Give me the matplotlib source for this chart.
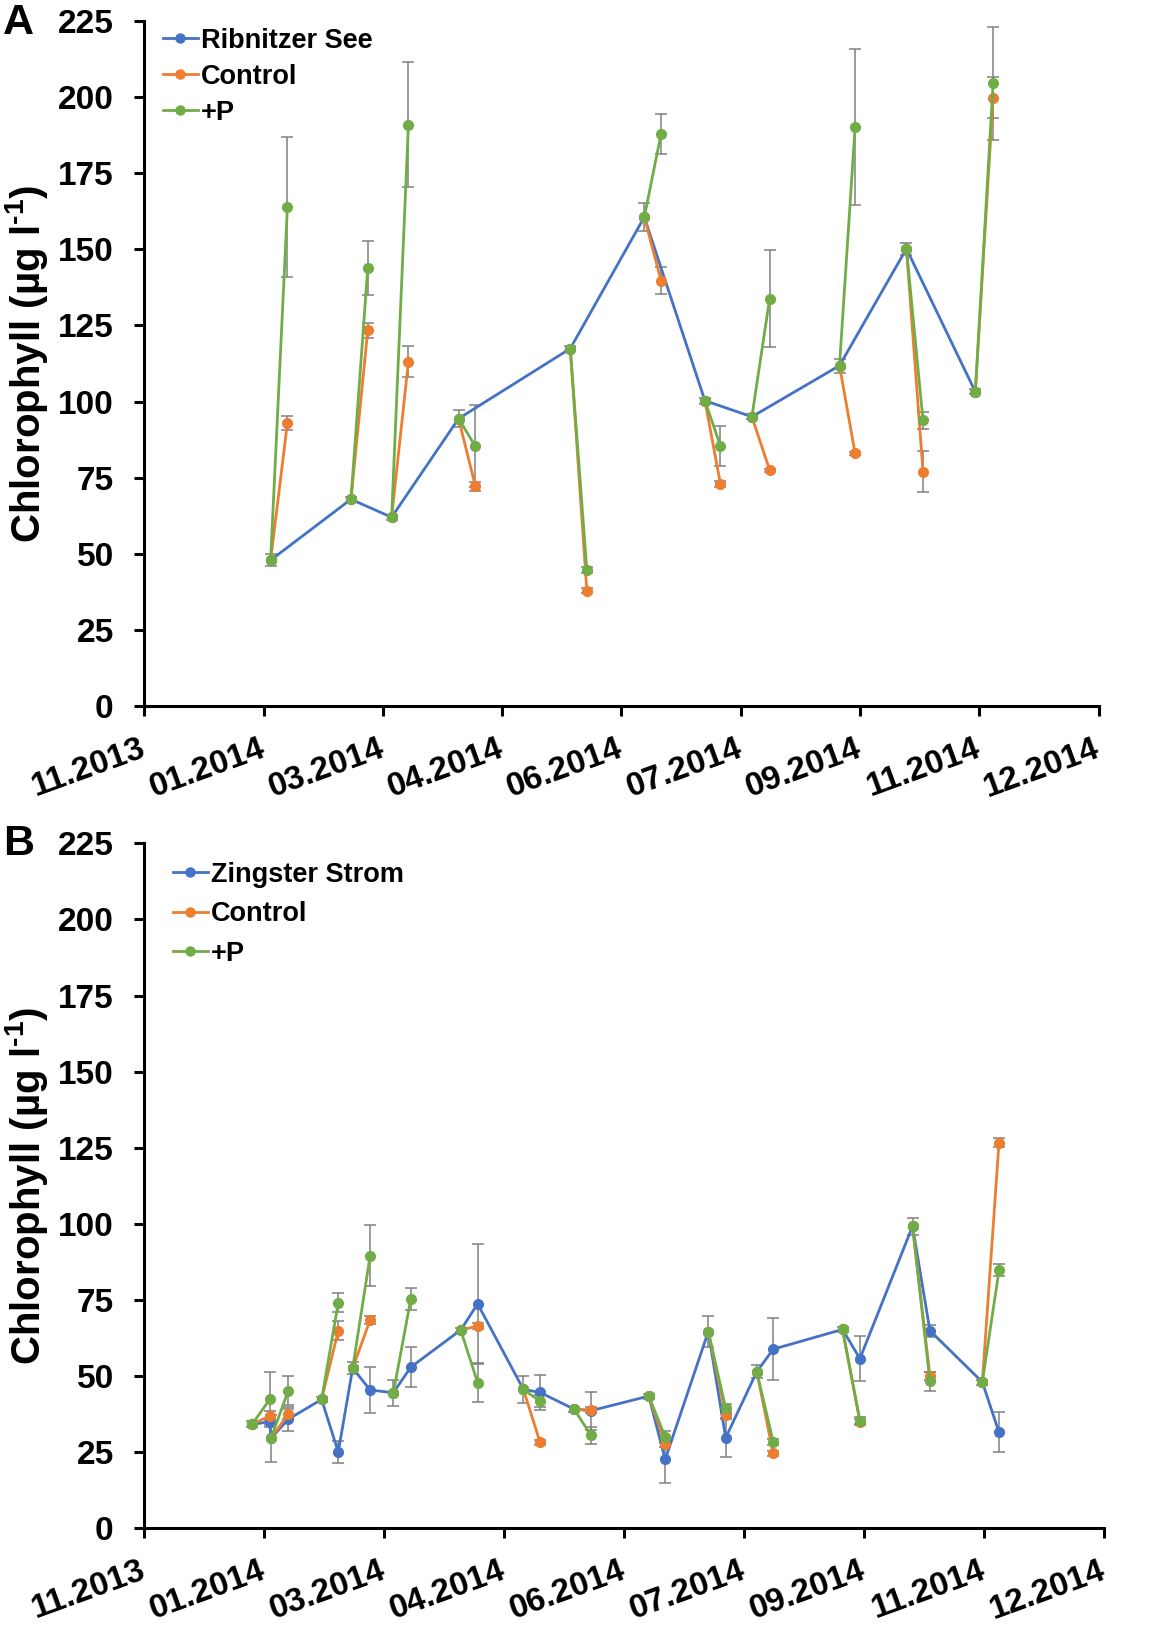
import numpy as np
import matplotlib
matplotlib.use("Agg")
import matplotlib.pyplot as plt
from matplotlib.lines import Line2D

plt.rcParams['font.family'] = ['Liberation Sans', 'DejaVu Sans']
plt.rcParams['font.weight'] = 'bold'
plt.rcParams['mathtext.fontset'] = 'custom'
plt.rcParams['mathtext.rm'] = 'Liberation Sans:bold'
plt.rcParams['mathtext.bf'] = 'Liberation Sans:bold'
plt.rcParams['mathtext.it'] = 'Liberation Sans:bold'

# ---------------- data ----------------
tick_labels = ['11.2013', '01.2014', '03.2014', '04.2014', '06.2014',
               '07.2014', '09.2014', '11.2014', '12.2014']
tick_step = 49  # days between axis ticks (day 0 = first tick)

# Panel A : Ribnitzer See
a_days = [51.9, 84.9, 101.6, 129.1, 175.0, 205.4, 230.3, 249.6, 285.6, 313.1, 341.4]
a_insitu = [47.9, 67.9, 62.0, 94.4, 117.4, 160.6, 100.3, 95.0, 111.8, 150.2, 103.2]
a_insitu_err = [2.0, 0.8, 0.8, 2.8, 0.8, 4.5, 1.0, 0.8, 2.3, 2.0, 0.8]
a_end_days = [58.8, 91.8, 108.5, 136.0, 181.8, 212.3, 236.7, 256.9, 292.0, 319.9, 348.7]
a_ctrl = [93.1, 123.4, 113.1, 72.2, 37.8, 139.7, 72.9, 77.5, 83.0, 77.0, 199.8]
a_ctrl_err = [2.3, 2.5, 5.0, 1.5, 0.8, 4.5, 1.0, 0.5, 0.5, 6.8, 6.7]
a_p = [164.0, 143.9, 190.9, 85.3, 44.6, 187.9, 85.4, 133.8, 190.2, 93.8, 204.5]
a_p_err = [23.0, 9.0, 20.5, 13.5, 1.0, 6.5, 6.5, 16.0, 25.6, 2.8, 18.5]

# Panel B : Zingster Strom (in-situ measured at start and end of each incubation)
b_days = [44.0, 51.2, 51.7, 58.8, 72.4, 79.2, 85.1, 92.2, 101.7, 108.8, 129.2, 136.1,
          154.8, 161.6, 175.5, 182.4, 206.0, 212.7, 230.3, 237.4, 250.1, 256.8,
          285.1, 292.2, 313.7, 320.8, 342.2, 349.0]
b_insitu = [34.1, 35.0, 29.5, 35.8, 42.3, 25.0, 52.6, 45.4, 44.5, 52.9, 65.1, 73.7,
            45.6, 44.6, 39.1, 38.6, 43.4, 22.6, 64.6, 29.7, 51.4, 58.8,
            65.3, 55.7, 99.2, 64.9, 48.0, 31.5]
b_insitu_err = [1.0, 1.0, 7.8, 3.9, 0.8, 3.6, 2.0, 7.7, 4.2, 6.5, 0.8, 19.7,
                4.5, 5.8, 0.8, 6.2, 0.8, 7.7, 5.1, 6.2, 2.2, 10.1,
                0.8, 7.3, 2.8, 2.0, 0.8, 6.6]
b_ctrl = [36.9, 37.5, 64.9, 68.4, np.nan, 66.4, 28.2, 38.8, 27.7, 37.2, 24.6, 35.0, 50.0, 126.7]
b_ctrl_err = [1.5, 1.5, 3.1, 1.4, np.nan, 1.0, 0.8, 1.0, 1.0, 1.0, 0.8, 1.0, 1.4, 1.5]
b_p = [42.3, 45.2, 74.1, 89.5, 75.2, 47.8, 41.7, 30.5, 29.9, 39.4, 28.4, 35.3, 48.2, 84.7]
b_p_err = [9.0, 4.7, 3.2, 10.0, 3.6, 6.5, 2.0, 2.7, 2.0, 1.5, 1.0, 1.2, 3.2, 2.0]

BLUE = '#4472C4'
ORANGE = '#ED7D31'
GREEN = '#70AD47'
GRAY = '#808080'

W, H = 1163, 1639
fig = plt.figure(figsize=(W / 100, H / 100), dpi=100)


def segs(sx, sy, ex, ey):
    xs, ys = [], []
    for a, b, c, d in zip(sx, sy, ex, ey):
        xs += [a, c, np.nan]
        ys += [b, d, np.nan]
    return np.array(xs), np.array(ys)


def style_axes(ax, label_x):
    ax.set_xlim(0, 8 * tick_step)
    ax.set_ylim(0, 225)
    ax.set_yticks(np.arange(0, 226, 25))
    ax.set_xticks(np.arange(0, 8 * tick_step + 1, tick_step))
    ax.set_xticklabels(tick_labels, rotation=20, ha='right', va='center',
                       rotation_mode='anchor')
    for s in ['top', 'right']:
        ax.spines[s].set_visible(False)
    for s in ['left', 'bottom']:
        ax.spines[s].set_linewidth(2.2)
    ax.tick_params(axis='both', direction='out', length=7, width=2.2,
                   labelsize=24)
    ax.tick_params(axis='y', pad=15)
    ax.tick_params(axis='x', pad=23)
    for t in ax.get_xticklabels() + ax.get_yticklabels():
        t.set_fontweight('bold')
    ax.set_ylabel(r'Chlorophyll (µg l$^{\text{-1}}$)', fontsize=29, fontweight='bold')
    ax.yaxis.set_label_coords(label_x, 0.5)


def draw_panel(ax, days, insitu, insitu_err, sx, sy, ex, ctrl, ctrl_err, p, p_err):
    lw, ms = 2.0, 7.0
    ax.errorbar(days, insitu, yerr=insitu_err, fmt='none', ecolor=GRAY,
                elinewidth=1.1, capsize=4.5, capthick=1.1, zorder=1.5)
    ax.errorbar(ex, ctrl, yerr=ctrl_err, fmt='none', ecolor=GRAY,
                elinewidth=1.1, capsize=4.5, capthick=1.1, zorder=1.5)
    ax.errorbar(ex, p, yerr=p_err, fmt='none', ecolor=GRAY,
                elinewidth=1.1, capsize=4.5, capthick=1.1, zorder=1.5)
    ax.plot(days, insitu, color=BLUE, lw=lw, marker='o', ms=ms, zorder=3)
    cx, cy = segs(sx, sy, ex, ctrl)
    ax.plot(cx, cy, color=ORANGE, lw=lw, marker='o', ms=ms, zorder=4)
    px, py = segs(sx, sy, ex, p)
    ax.plot(px, py, color=GREEN, lw=lw, marker='o', ms=ms, zorder=5)


def legend(ax, name, anchor, spacing):
    handles = [Line2D([], [], color=c, lw=2.0, marker='o', ms=6.5)
               for c in (BLUE, ORANGE, GREEN)]
    ax.legend(handles, [name, 'Control', '+P'], loc='upper left',
              bbox_to_anchor=anchor, frameon=False,
              prop={'size': 19.5, 'weight': 'bold'}, handlelength=1.3,
              handletextpad=0.1, borderpad=0, borderaxespad=0,
              labelspacing=spacing)


# Panel A
axA = fig.add_axes([144.3 / W, 1 - 706 / H, 954.2 / W, 685 / H])
draw_panel(axA, a_days, a_insitu, a_insitu_err, a_days, a_insitu,
           a_end_days, a_ctrl, a_ctrl_err, a_p, a_p_err)
style_axes(axA, -0.099)
legend(axA, 'Ribnitzer See', (0.0192, 0.990), 0.37)

# Panel B
axB = fig.add_axes([144.3 / W, 1 - 1528.2 / H, 960 / W, 684.9 / H])
b_start_days = b_days[0::2]
b_start_vals = b_insitu[0::2]
b_end_days = b_days[1::2]
draw_panel(axB, b_days, b_insitu, b_insitu_err, b_start_days, b_start_vals,
           b_end_days, b_ctrl, b_ctrl_err, b_p, b_p_err)
style_axes(axB, -0.098)
legend(axB, 'Zingster Strom', (0.0295, 0.973), 0.5)

fig.text(3 / W, 1 - 3 / H, 'A', ha='left', va='top', fontsize=31, fontweight='bold')
fig.text(3 / W, 1 - 824 / H, 'B', ha='left', va='top', fontsize=31, fontweight='bold')

fig.savefig('out.png', dpi=100)
